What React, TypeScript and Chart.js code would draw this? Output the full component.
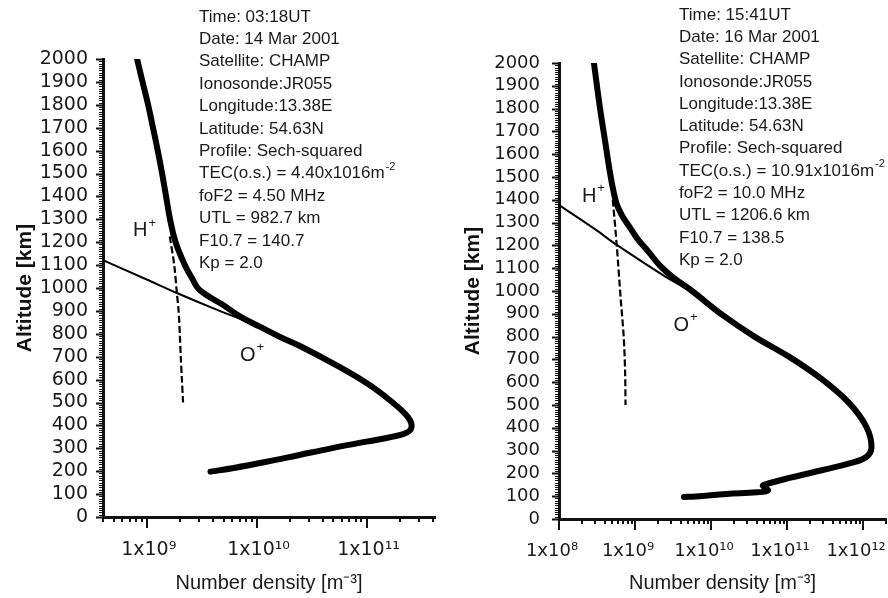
import React, { useEffect, useRef } from "react";
import { Chart, registerables } from "chart.js";

Chart.register(...registerables);

// ---------- Left panel: 14 Mar 2001, 03:18UT ----------
const leftTotalDensity = [8.17e8, 9.16e8, 1.03e9, 1.14e9, 1.26e9, 1.38e9, 1.5e9, 1.63e9, 1.83e9, 2.25e9, 2.6e9, 2.95e9, 3.7e9, 4.8e9, 7.1e9, 1.07e10, 1.62e10, 2.45e10, 4.9e10, 1.0e11, 1.62e11, 2.3e11, 2.57e11, 2.4e11, 1.74e11, 1.0e11, 4.9e10, 2.45e10, 1.23e10, 6.2e9, 3.8e9];
const leftTotalAltitude = [2000, 1900, 1800, 1700, 1600, 1500, 1400, 1300, 1200, 1095, 1040, 997, 962, 930, 875, 831, 787, 748, 672, 585, 511, 445, 402, 372, 351, 329, 301, 271, 241, 214, 198];
const leftOxygenDensity = [4e8, 1e9, 1.88e9, 4e9, 1.07e10, 2.45e10, 4.9e10];
const leftOxygenAltitude = [1122, 1037, 978, 912, 830, 748, 672];
const leftHydrogenDensity = [1.62e9, 1.78e9, 1.88e9, 1.95e9, 2.0e9, 2.04e9, 2.09e9, 2.14e9];
const leftHydrogenAltitude = [1225, 1100, 978, 900, 800, 700, 600, 500];
const leftDecades = [1e9, 1e10, 1e11];
const leftDensityRange = [4e8, 4.2e11];
const leftInfo = [
  "Time: 03:18UT",
  "Date: 14 Mar 2001",
  "Satellite: CHAMP",
  "Ionosonde:JR055",
  "Longitude:13.38E",
  "Latitude: 54.63N",
  "Profile: Sech-squared",
  "TEC(o.s.) = 4.40x1016m^-2",
  "foF2 = 4.50 MHz",
  "UTL = 982.7 km",
  "F10.7 = 140.7",
  "Kp = 2.0",
];
const leftHLabelAt = [7.5e8, 1249];
const leftOLabelAt = [7.05e9, 707];

// ---------- Right panel: 16 Mar 2001, 15:41UT ----------
const rightTotalDensity = [2.88e8, 3.47e8, 4.07e8, 4.68e8, 5.19e8, 5.75e8, 6.76e8, 8.51e8, 1.07e9, 1.48e9, 2.14e9, 3.16e9, 5.62e9, 1.41e10, 3.72e10, 1.07e11, 2.95e11, 6.6e11, 1.1e12, 1.29e12, 1.1e12, 6.6e11, 2.95e11, 1.07e11, 5.2e10, 4.8e10, 5.6e10, 4.0e10, 1.6e10, 6.3e9, 4.4e9];
const rightTotalAltitude = [2000, 1800, 1650, 1520, 1440, 1380, 1330, 1280, 1230, 1175, 1110, 1060, 1000, 895, 800, 711, 610, 507, 405, 316, 272, 244, 215, 180, 152, 145, 125, 117, 110, 99, 97];
const rightOxygenDensity = [1e8, 3e8, 5.75e8, 2.5e9, 5e9, 1.41e10, 3.72e10];
const rightOxygenAltitude = [1377, 1270, 1202, 1063, 1005, 895, 800];
const rightHydrogenDensity = [5.1e8, 5.75e8, 6.5e8, 7.1e8, 7.4e8, 7.5e8];
const rightHydrogenAltitude = [1400, 1200, 960, 800, 650, 500];
const rightDecades = [1e8, 1e9, 1e10, 1e11, 1e12];
const rightDensityRange = [1e8, 2e12];
const rightInfo = [
  "Time: 15:41UT",
  "Date: 16 Mar 2001",
  "Satellite: CHAMP",
  "Ionosonde:JR055",
  "Longitude:13.38E",
  "Latitude: 54.63N",
  "Profile: Sech-squared",
  "TEC(o.s.) = 10.91x1016m^-2",
  "foF2 = 10.0 MHz",
  "UTL = 1206.6 km",
  "F10.7 = 138.5",
  "Kp = 2.0",
];
const rightHLabelAt = [2.0e8, 1413];
const rightOLabelAt = [3.2e9, 850];

const altitudeRange = [0, 2000];

// ---------- helpers ----------
const SUP: Record<string, string> = { "0": "\u2070", "1": "\u00b9", "2": "\u00b2", "3": "\u00b3", "4": "\u2074", "5": "\u2075", "6": "\u2076", "7": "\u2077", "8": "\u2078", "9": "\u2079", "-": "\u207b" };
const sup = (s: string) => s.split("").map((c) => SUP[c] || c).join("");

const zip = (xs: number[], ys: number[]) => xs.map((x, i) => ({ x, y: ys[i] }));

const TEXT_FONT = '"Liberation Sans", Arial, sans-serif';
const TICK_FONT = '"DejaVu Sans", sans-serif';
const INK = "#111";

const tickMarksPlugin = {
  id: "tickMarks",
  afterDraw(chart: any) {
    const { ctx, chartArea } = chart;
    const xs = chart.scales.x;
    const ys = chart.scales.y;
    ctx.save();
    ctx.strokeStyle = INK;
    for (let v = ys.min; v <= ys.max; v += 10) {
      const py = Math.round(ys.getPixelForValue(v)) + 0.5;
      const major = v % 100 === 0;
      ctx.lineWidth = major ? 2 : 1;
      ctx.beginPath();
      ctx.moveTo(chartArea.left, py);
      ctx.lineTo(chartArea.left - (major ? 7 : 4), py);
      ctx.stroke();
    }
    const e0 = Math.floor(Math.log10(xs.min));
    const e1 = Math.ceil(Math.log10(xs.max));
    for (let e = e0; e <= e1; e++) {
      for (let m = 1; m <= 9; m++) {
        const v = m * Math.pow(10, e);
        if (v < xs.min * 0.999 || v > xs.max * 1.001) continue;
        const px = Math.round(xs.getPixelForValue(v));
        ctx.lineWidth = 2;
        ctx.beginPath();
        ctx.moveTo(px, chartArea.bottom);
        ctx.lineTo(px, chartArea.bottom + (m === 1 ? 11 : 5));
        ctx.stroke();
      }
    }
    ctx.restore();
  },
};

function drawSupText(ctx: CanvasRenderingContext2D, text: string, x: number, y: number, size: number, supSize: number, rise: number) {
  const [base, s] = text.split("^");
  ctx.font = `${size}px ${TEXT_FONT}`;
  ctx.fillText(base, x, y);
  if (s) {
    const w = ctx.measureText(base).width;
    ctx.font = `${supSize}px ${TEXT_FONT}`;
    ctx.fillText(s, x + w + 1, y - rise);
  }
}

function makeAnnotations(info: string[], infoDx: number, infoTop: number, infoStep: number, hAt: number[], oAt: number[]) {
  return {
    id: "annotations",
    afterDraw(chart: any) {
      const { ctx, chartArea } = chart;
      const xs = chart.scales.x;
      const ys = chart.scales.y;
      ctx.save();
      ctx.fillStyle = "#1a1a1a";
      ctx.textAlign = "left";
      ctx.textBaseline = "middle";
      info.forEach((line, i) => {
        drawSupText(ctx, line, chartArea.left + infoDx, infoTop + i * infoStep, 17, 11, 7);
      });
      drawSupText(ctx, "H^+", xs.getPixelForValue(hAt[0]), ys.getPixelForValue(hAt[1]), 20, 13, 8);
      drawSupText(ctx, "O^+", xs.getPixelForValue(oAt[0]), ys.getPixelForValue(oAt[1]), 20, 13, 8);
      ctx.restore();
    },
  };
}

type PanelSpec = {
  total: { d: number[]; a: number[] };
  oxygen: { d: number[]; a: number[] };
  hydrogen: { d: number[]; a: number[] };
  decades: number[];
  range: number[];
  info: string[];
  infoDx: number;
  infoTop: number;
  infoStep: number;
  hAt: number[];
  oAt: number[];
  yWidth: number;
  xHeight: number;
  padTop: number;
  padRight: number;
  yTickSize: number;
  xTickSize: number;
  yTickPad: number;
  xTickPad: number;
  xLabelOffset: number;
  yTitlePad: number;
};

function buildConfig(p: PanelSpec): any {
  return {
    type: "scatter",
    data: {
      datasets: [
        {
          data: zip(p.oxygen.d, p.oxygen.a),
          showLine: true,
          borderColor: "#000",
          borderWidth: 2,
          pointRadius: 0,
          tension: 0.3,
        },
        {
          data: zip(p.hydrogen.d, p.hydrogen.a),
          showLine: true,
          borderColor: "#000",
          borderWidth: 2.2,
          borderDash: [7, 3],
          pointRadius: 0,
          tension: 0.3,
        },
        {
          data: zip(p.total.d, p.total.a),
          showLine: true,
          borderColor: "#000",
          borderWidth: 6,
          borderCapStyle: "round",
          borderJoinStyle: "round",
          pointRadius: 0,
          tension: 0.4,
        },
      ],
    },
    options: {
      animation: false,
      responsive: false,
      devicePixelRatio: 1,
      layout: { padding: { top: p.padTop, right: p.padRight, left: 0, bottom: 0 } },
      plugins: { legend: { display: false }, tooltip: { enabled: false } },
      scales: {
        x: {
          type: "logarithmic",
          min: p.range[0],
          max: p.range[1],
          grid: { display: false, drawTicks: false },
          border: { display: true, width: 3, color: INK },
          afterBuildTicks: (s: any) => {
            s.ticks = p.decades.map((v) => ({ value: v, major: true }));
          },
          afterFit: (s: any) => {
            s.height = p.xHeight;
            s.paddingLeft = 0;
            s.paddingRight = 0;
          },
          ticks: {
            autoSkip: false,
            maxRotation: 0,
            minRotation: 0,
            padding: p.xTickPad,
            labelOffset: p.xLabelOffset,
            color: "#1a1a1a",
            font: { family: TICK_FONT, size: p.xTickSize },
            callback: (v: number) => "1x10" + sup(String(Math.round(Math.log10(v)))),
          },
          title: {
            display: true,
            text: "Number density [m" + sup("-3") + "]",
            color: "#1a1a1a",
            font: { family: TEXT_FONT, size: 20 },
            padding: { top: 0, bottom: 3 },
          },
        },
        y: {
          type: "linear",
          min: altitudeRange[0],
          max: altitudeRange[1],
          grid: { display: false, drawTicks: false },
          border: { display: true, width: 3, color: INK },
          afterFit: (s: any) => {
            s.width = p.yWidth;
            s.paddingTop = 0;
            s.paddingBottom = 0;
          },
          ticks: {
            stepSize: 100,
            autoSkip: false,
            padding: p.yTickPad,
            color: "#1a1a1a",
            font: { family: TICK_FONT, size: p.yTickSize },
            callback: (v: number) => String(v),
          },
          title: {
            display: true,
            text: "Altitude [km]",
            color: "#111",
            font: { family: TEXT_FONT, size: 21, weight: "bold" },
            padding: { top: p.yTitlePad, bottom: 0 },
          },
        },
      },
    },
    plugins: [tickMarksPlugin, makeAnnotations(p.info, p.infoDx, p.infoTop, p.infoStep, p.hAt, p.oAt)],
  };
}

const leftSpec: PanelSpec = {
  total: { d: leftTotalDensity, a: leftTotalAltitude },
  oxygen: { d: leftOxygenDensity, a: leftOxygenAltitude },
  hydrogen: { d: leftHydrogenDensity, a: leftHydrogenAltitude },
  decades: leftDecades,
  range: leftDensityRange,
  info: leftInfo,
  infoDx: 96,
  infoTop: 17,
  infoStep: 22.4,
  hAt: leftHLabelAt,
  oAt: leftOLabelAt,
  yWidth: 103,
  xHeight: 81,
  padTop: 59,
  padRight: 25,
  yTickSize: 19,
  xTickSize: 19,
  yTickPad: 15,
  xTickPad: 22,
  xLabelOffset: 2,
  yTitlePad: 13,
};

const rightSpec: PanelSpec = {
  total: { d: rightTotalDensity, a: rightTotalAltitude },
  oxygen: { d: rightOxygenDensity, a: rightOxygenAltitude },
  hydrogen: { d: rightHydrogenDensity, a: rightHydrogenAltitude },
  decades: rightDecades,
  range: rightDensityRange,
  info: rightInfo,
  infoDx: 120,
  infoTop: 15,
  infoStep: 22.3,
  hAt: rightHLabelAt,
  oAt: rightOLabelAt,
  yWidth: 119,
  xHeight: 79,
  padTop: 63,
  padRight: 2,
  yTickSize: 18,
  xTickSize: 18,
  yTickPad: 19,
  xTickPad: 22,
  xLabelOffset: -7,
  yTitlePad: 21,
};

function Panel({ spec, left, width }: { spec: PanelSpec; left: number; width: number }) {
  const ref = useRef<HTMLCanvasElement>(null);
  useEffect(() => {
    const chart = new Chart(ref.current as HTMLCanvasElement, buildConfig(spec));
    return () => chart.destroy();
  }, [spec]);
  return (
    <canvas
      ref={ref}
      width={width}
      height={598}
      style={{ position: "absolute", left, top: 0, width, height: 598 }}
    />
  );
}

export default function App() {
  return (
    <div
      style={{
        position: "fixed",
        left: 0,
        top: 0,
        width: 888,
        height: 598,
        background: "#fff",
        overflow: "hidden",
      }}
    >
      <Panel spec={leftSpec} left={0} width={460} />
      <Panel spec={rightSpec} left={440} width={448} />
    </div>
  );
}
